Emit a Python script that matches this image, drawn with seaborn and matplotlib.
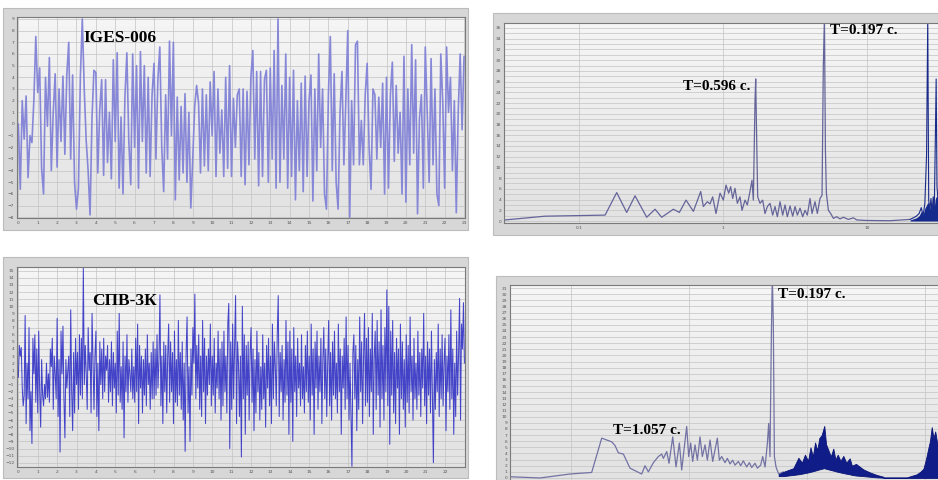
import numpy as np
import pandas as pd
import matplotlib
matplotlib.use("Agg")
import matplotlib.pyplot as plt
from matplotlib.patches import Rectangle
from matplotlib.ticker import FixedLocator, NullLocator, FixedFormatter
import seaborn as sns

# ---------------- data ----------------
# IGES-006 accelerogram, sampled every 0.1 s (t = 0 ... 23 s)
iges_dt = 0.1
iges_values = [
    0.0, -5.6, 2.0, -1.3, 2.4, -4.6, -1.0, -1.6, 2.0, 7.5,
    2.7, 4.8, -3.8, -6.0, 4.0, -0.2, 5.7, -4.0, 1.0, 4.3,
    -3.7, 3.0, -1.5, 4.1, -2.6, 4.2, 7.0, -3.0, 4.2, -5.0,
    -7.3, -5.5, 4.0, 9.0, 3.0, -1.4, -4.0, -7.8, 0.5, 4.6,
    4.4, -4.2, 1.2, 3.8, -4.4, 3.8, -3.3, 1.0, -4.7, 5.5,
    -1.5, 6.1, -5.5, 0.6, -6.0, 2.3, 6.1, -1.5, -5.2, 6.0,
    -2.0, 5.0, -5.5, 6.2, -1.5, 5.0, -4.2, 4.0, -4.5, 2.5,
    5.2, -3.0, 3.8, 6.6, -2.0, -5.8, 2.5, -3.0, 7.1, -1.0,
    7.0, -6.5, 2.3, -4.8, 1.5, -4.2, 2.6, -5.0, 1.0, -7.2,
    -3.0, 1.5, 3.3, 1.8, -4.2, 3.0, -3.6, 2.5, -4.0, 3.6,
    -1.0, 4.5, -4.5, 3.0, -2.5, 1.2, -4.5, 4.0, -3.8, 5.0,
    -4.5, 2.2, -2.0, 2.5, 3.0, -4.5, 3.0, -5.2, 2.8, -3.5,
    4.0, 6.3, -3.0, 4.5, -5.3, 4.5, -4.5, 3.8, 4.6, -5.0,
    4.8, -3.0, 6.3, -5.5, 9.0, -5.0, 3.3, -3.0, 6.0, -5.5,
    4.0, -4.5, 4.6, -6.5, 2.0, -4.0, 3.5, -5.8, 4.1, -4.5,
    2.0, 4.2, -6.6, 3.0, -4.0, 6.0, -2.0, 3.0, -6.0, -7.3,
    2.5, 7.5, -4.0, 4.3, -5.0, -7.3, 1.0, 4.5, -3.5, 2.0,
    8.0, -8.0, 2.0, -3.5, 6.8, 7.1, -3.5, 0.3, -3.5, 2.5,
    5.2, -2.0, -5.6, 3.0, 2.5, -3.0, 2.3, -2.0, 3.5, -6.0,
    4.0, -5.5, 2.5, 5.3, -3.2, 3.3, -2.5, 1.0, -6.0, 5.8,
    -6.7, 3.0, -3.5, 6.8, -2.5, 5.5, -7.7, 0.5, 2.5, -5.5,
    6.6, 1.0, -5.0, 5.6, -3.5, 3.0, -6.0, -7.0, 6.0, 2.0,
    -5.5, 6.6, 1.0, 4.0, -4.0, 2.0, -7.6, 1.0, 6.0, -0.5,
    5.8,
]

# СПВ-3К accelerogram, sampled every 0.05 s (t = 0 ... 23 s)
spv_dt = 0.05
spv_values = [
    0.0, 4.5, 3.0, 4.2, -1.5, -4.0, -2.5, 8.7, -6.5, 2.0, -3.0, 7.0, -7.5, -2.0, -9.3, 5.5, 0.5, 6.0, -3.5, 4.0,
    -5.0, 6.5, -2.0, -7.0, 2.5, -2.5, -4.0, -1.0, -3.0, 2.0, -2.8, 0.5, -3.5, 4.0, 1.5, 5.5, -4.5, 3.0, 0.5, -3.0,
    8.3, -5.5, 2.5, -10.5, 6.5, 0.5, 7.2, -3.0, -8.5, 2.5, -1.5, 1.0, 3.0, -5.5, 9.5, -2.0, -7.5, 3.5, -5.0, 5.5,
    -1.0, 3.5, -4.5, 6.0, -2.5, 5.5, -3.0, 15.6, -1.0, 4.5, 0.5, -4.5, 7.0, 1.0, 3.5, -5.0, 9.0, 2.0, -4.5, 3.0,
    6.5, -5.5, 2.0, -7.5, 5.0, -1.0, 4.0, -3.0, 5.5, -2.0, 3.0, 1.0, 4.5, -3.5, 2.5, -2.0, 5.0, -4.0, 3.5, -1.5,
    2.0, -5.0, 6.5, -2.5, 9.0, -3.5, 1.5, -4.5, 5.0, -8.5, 3.0, -2.0, 6.0, -3.5, 2.5, 0.5, -2.0, 4.0, -3.0, 1.5,
    -3.5, 5.5, -2.0, 7.5, -6.5, 4.5, -1.5, 3.0, -5.0, 2.5, -2.5, 4.0, -4.0, 6.0, -1.0, 2.0, -4.5, 3.5, -3.0, 5.0,
    -3.0, 4.0, -2.5, 6.0, -1.5, 2.5, 11.6, -4.0, 3.0, -6.5, 5.0, -2.0, 4.5, -5.0, 3.0, 7.5, -3.5, 5.0, -2.0, 3.5,
    -6.5, 6.5, -3.5, 2.5, -4.0, 8.0, -2.5, 3.5, -4.5, 5.0, -6.0, 2.0, -10.4, 3.5, 8.5, -5.0, 1.5, -9.0, 4.0, -2.5,
    7.0, 2.0, 11.7, -3.0, 4.5, -1.5, 6.0, -4.5, 3.0, -5.5, 8.0, -2.0, 5.5, -6.5, 3.0, -2.5, 4.0, -1.0, 7.5, -4.0,
    3.0, -2.5, 5.5, -5.0, 2.0, -1.5, 6.5, -3.0, 4.0, -6.0, 5.0, -4.0, 6.5, -2.0, 3.0, -5.0, 7.5, 10.4, -10.0, 5.0,
    -4.5, 7.5, -3.0, 4.0, 11.5, -6.5, 5.0, 2.0, -5.5, 3.0, -11.2, 10.0, -3.0, 6.0, -8.0, 4.5, -2.5, 5.0, -6.0, 3.5,
    7.0, -3.5, 4.0, -7.5, 2.5, -5.0, 6.5, -2.0, 3.5, -6.0, 1.5, -4.5, 6.0, -3.0, 2.0, -7.0, 4.5, -1.5, 5.5, -4.0,
    3.0, -6.5, 7.5, -3.0, 5.0, 1.5, -4.0, 6.0, 11.5, -5.5, 3.5, -2.0, 4.5, -6.0, 2.5, -3.5, 8.0, -2.5, 5.0, -8.0,
    6.5, -3.5, 4.0, -9.0, 7.0, -2.0, 3.0, -5.5, 5.5, -1.5, 2.0, -4.0, 6.0, -3.0, 1.5, -5.0, 4.5, -2.0, 6.5, -3.5,
    3.0, -6.0, 7.5, -2.5, 4.0, -8.0, 5.0, -1.5, 6.5, -4.5, 3.0, -2.0, 5.5, -6.5, 2.5, 7.0, -3.0, 4.0, -5.5, 2.0,
    8.0, -4.0, 3.5, -6.0, 5.0, -2.5, 6.5, -3.0, 2.0, -5.0, 7.5, -2.0, 4.0, -8.0, 3.0, -1.5, 5.5, -4.5, 8.5, -3.0,
    4.5, -6.0, 2.0, -5.0, -12.5, 3.5, 6.0, -3.0, 4.5, -7.5, 2.5, -4.5, 8.5, -2.0, 5.0, -6.5, 3.0, 9.0, -4.0, 5.5,
    -3.5, 7.0, -5.5, 4.0, -2.0, 9.0, -8.0, 3.0, 6.5, -4.5, 8.0, -2.5, 5.0, -7.0, 9.5, -3.0, 4.5, -6.0, 7.0, -2.0,
    12.3, -4.0, 10.0, -9.4, 6.5, -2.5, 8.0, -5.0, 3.5, -6.5, 5.5, -1.5, 4.0, -8.0, 7.5, -3.0, 5.0, -4.5, 2.5, -7.0,
    6.0, -3.5, 4.5, -5.0, 8.5, -2.0, 3.0, -6.0, 5.5, -3.0, 2.0, -4.5, 6.5, -2.5, 3.5, -5.5, 4.0, -1.5, 9.0, -4.0,
    3.0, -6.5, 5.0, -2.5, 4.0, -5.0, 6.5, -3.0, -12.0, 2.5, -4.5, 3.5, -2.0, 7.5, -5.5, 4.0, -3.0, 6.0, -4.0, 2.0,
    5.5, -7.5, 3.0, -2.0, 6.0, -4.5, 9.5, -3.0, 4.0, -8.0, 2.0, -5.5, 6.5, -2.5, 3.5, 11.1, -6.0, 7.5, 4.0, 10.5,
    2.0,
]

# IGES-006 Fourier spectrum (frequency, Hz / amplitude)
iges_freq = [0.0306, 0.0581, 0.1517, 0.1827, 0.2143, 0.2449, 0.2951, 0.3373, 0.3750, 0.4519,
             0.4975, 0.5536, 0.6223, 0.6998, 0.7300, 0.7780, 0.8125, 0.8474, 0.8935, 0.9532,
             1.005, 1.049, 1.095, 1.130, 1.167, 1.211, 1.257, 1.312, 1.355, 1.421,
             1.475, 1.539, 1.589, 1.624, 1.668, 1.686, 1.713, 1.741, 1.807, 1.885,
             1.957, 2.032, 2.120, 2.212, 2.296, 2.384, 2.488, 2.596, 2.695, 2.797,
             2.920, 3.047, 3.162, 3.282, 3.425, 3.574, 3.709, 3.850, 4.018, 4.150,
             4.353, 4.518, 4.715, 4.870, 4.970, 5.060, 5.140, 5.220, 5.390, 5.590,
             5.840, 6.150, 6.490, 6.850, 7.420, 8.030, 8.480, 9.950, 14.45, 19.90]
iges_amp = [0.2, 0.9, 1.1, 5.3, 1.6, 4.7, 0.7, 2.2, 0.7, 2.2,
            1.6, 3.9, 1.8, 5.5, 2.7, 3.6, 3.2, 4.5, 1.4, 5.2,
            3.9, 6.7, 5.2, 6.4, 4.2, 6.1, 3.3, 4.5, 2.0, 3.9,
            3.0, 5.5, 7.6, 3.9, 22.5, 26.5, 15.1, 4.5, 3.3, 3.9,
            1.4, 2.7, 3.3, 1.1, 2.7, 0.8, 3.6, 1.1, 3.0, 0.8,
            2.8, 0.9, 2.7, 1.1, 2.4, 0.8, 2.0, 1.1, 4.2, 1.4,
            3.6, 1.4, 4.2, 4.8, 28.8, 38.0, 13.2, 5.2, 2.0, 1.4,
            0.5, 0.8, 0.4, 0.7, 0.3, 0.6, 0.2, 0.1, 0.06, 0.3]
iges_hf_freq = [19.9, 21.0, 22.0, 23.0, 23.8, 24.5, 25.2, 25.9, 26.4, 26.8, 27.3, 27.8,
                28.3, 28.8, 29.3, 29.8, 30.2, 30.6, 31.1]
iges_hf_amp = [0.3, 0.6, 0.9, 1.4, 2.5, 1.0, 3.2, 12.3, 38.0, 3.9, 2.0, 4.2,
               1.5, 4.5, 2.0, 15.1, 26.5, 6.4, 4.0]
iges_hf_fill = [0.2, 0.4, 0.6, 1.0, 1.8, 1.2, 2.4, 3.0, 3.5, 3.2, 2.2, 3.6,
                2.0, 3.8, 2.6, 4.2, 4.5, 4.8, 4.0]

# СПВ-3К Fourier spectrum (frequency, Hz / amplitude)
spv_freq = [0.0304, 0.0546, 0.0981, 0.1496, 0.1820, 0.2212, 0.2360, 0.2518, 0.2778, 0.3162,
            0.3970, 0.4238, 0.4521, 0.4989, 0.5497, 0.5866, 0.6061, 0.6470, 0.6770, 0.7276,
            0.7760, 0.8279, 0.8668, 0.9131, 0.9555, 0.9935, 1.033, 1.074, 1.124, 1.177,
            1.239, 1.297, 1.367, 1.430, 1.507, 1.587, 1.661, 1.738, 1.807, 1.892,
            2.018, 2.113, 2.225, 2.344, 2.453, 2.618, 2.740, 2.887, 3.080, 3.246,
            3.397, 3.625, 3.795, 4.049, 4.210, 4.408, 4.615, 4.732, 4.855, 4.983,
            5.080, 5.180, 5.290, 5.460, 5.750, 6.300]
spv_amp = [0.2, 0.0, 0.65, 0.9, 6.5, 5.9, 5.3, 4.1, 3.9, 1.6,
           0.65, 2.0, 1.0, 2.5, 3.5, 3.9, 3.2, 4.3, 2.4, 6.7,
           1.8, 5.7, 1.3, 5.1, 8.4, 3.5, 5.7, 2.7, 5.4, 2.9,
           6.7, 3.5, 5.4, 2.9, 6.2, 2.7, 4.6, 6.5, 2.9, 3.5,
           2.5, 3.2, 2.3, 2.9, 2.1, 2.7, 2.0, 2.8, 1.8, 2.5,
           1.7, 2.4, 1.6, 2.1, 3.5, 1.8, 5.7, 8.9, 3.5, 23.0,
           33.0, 25.2, 3.5, 1.8, 0.65, 1.0]
spv_band_freq = [5.75, 6.30, 6.94, 7.66, 8.45, 9.05, 9.60, 10.2, 10.7, 11.2,
                 11.7, 12.2, 12.7, 13.3, 14.0, 14.5, 15.2, 15.9, 16.7, 17.4,
                 18.2, 19.2, 20.3, 21.5, 23.0, 24.0, 26.0, 30.0, 34.2, 38.9, 44.4]
spv_band_hi = [0.6, 1.0, 1.3, 1.6, 3.3, 2.5, 3.8, 2.8, 5.0, 3.5,
               5.8, 4.5, 6.5, 7.0, 8.5, 5.5, 4.5, 3.5, 4.8, 3.0,
               3.8, 2.8, 3.6, 2.5, 3.2, 2.0, 2.3, 1.4, 0.9, 0.5, 0.2]
spv_band_lo = [0.3, 0.3, 0.4, 0.5, 0.6, 0.7, 0.8, 0.9, 1.0, 1.1,
               1.2, 1.3, 1.4, 1.5, 1.6, 1.5, 1.4, 1.3, 1.2, 1.1,
               1.0, 0.9, 0.8, 0.7, 0.6, 0.5, 0.4, 0.3, 0.2, 0.1, 0.05]
spv_hf_freq = [44.4, 70.0, 85.0, 91.0, 96.8, 100.0, 103.0, 107.0, 110.0, 114.0, 118.0, 122.0, 126.0, 129.0]
spv_hf_amp = [0.1, 0.1, 0.6, 1.0, 1.5, 2.5, 3.5, 5.0, 6.0, 8.3, 6.5, 7.6, 6.0, 5.0]

# ---------------- style ----------------
sns.set_theme(style="white")
plt.rcParams["font.family"] = ["DejaVu Sans"]

W, H = 938.0, 480.0
fig = plt.figure(figsize=(9.38, 4.8), dpi=100)
fig.patch.set_facecolor("white")


def fx(x):
    return x / W


def fy(y):
    return 1.0 - y / H


def frame(x0, y0, x1, y1):
    r = Rectangle((fx(x0), fy(y1)), fx(x1) - fx(x0), fy(y0) - fy(y1),
                  transform=fig.transFigure, facecolor="#d7d7d7",
                  edgecolor="#bcbcbc", lw=0.8, zorder=-10)
    fig.add_artist(r)


def make_axes(x0, y0, x1, y1):
    ax = fig.add_axes([fx(x0), fy(y1), fx(x1) - fx(x0), fy(y0) - fy(y1)])
    ax.set_zorder(5)
    ax.set_facecolor("#eeeeee")
    grad = np.linspace(0.96, 0.885, 64).reshape(-1, 1)
    ax.imshow(grad, cmap="gray", vmin=0, vmax=1, extent=(0, 1, 0, 1), aspect="auto",
              transform=ax.transAxes, zorder=-5)
    for s in ax.spines.values():
        s.set_color("#7a7a7a")
        s.set_linewidth(0.8)
    ax.tick_params(axis="both", which="both", length=0, labelsize=3.2,
                   labelcolor="#555555", pad=2)
    return ax


GRID = dict(color="#c3c3c3", lw=0.5)

# frames
frame(3, 8, 468, 230)
frame(493, 13, 938, 235)
frame(3, 257, 468, 478)
frame(496, 276, 938, 480)

# ---- top-left: IGES-006 time history ----
ax1 = make_axes(17, 17, 465, 218)
t1 = np.arange(len(iges_values)) * iges_dt
sns.lineplot(x=t1, y=iges_values, ax=ax1, color="#8787d8", lw=1.2,
             estimator=None, sort=False, legend=False)
ax1.set_xlim(-0.07, 23.05)
ax1.set_ylim(-8.06, 9.17)
ax1.xaxis.set_major_locator(FixedLocator(range(0, 24)))
ax1.yaxis.set_major_locator(FixedLocator(range(-8, 10)))
ax1.grid(True, **GRID)
ax1.set_axisbelow(True)

# ---- bottom-left: СПВ-3К time history ----
ax3 = make_axes(17, 267, 465, 467)
t3 = np.arange(len(spv_values)) * spv_dt
sns.lineplot(x=t3, y=spv_values, ax=ax3, color="#3232c6", lw=0.75, alpha=0.9,
             estimator=None, sort=False, legend=False)
ax3.set_xlim(-0.07, 23.03)
ax3.set_ylim(-12.6, 15.52)
ax3.xaxis.set_major_locator(FixedLocator(range(0, 23)))
ax3.yaxis.set_major_locator(FixedLocator(range(-12, 16)))
ax3.grid(True, **GRID)
ax3.set_axisbelow(True)

# ---- top-right: IGES-006 spectrum ----
ax2 = make_axes(504, 23, 938, 223)
ax2.set_xscale("log")
sns.lineplot(x=iges_freq, y=iges_amp, ax=ax2, color="#64649a", lw=0.9,
             estimator=None, sort=False, legend=False)
ax2.fill_between(iges_hf_freq, 0, iges_hf_fill, color="#142a8c", lw=0, zorder=3)
sns.lineplot(x=iges_hf_freq, y=iges_hf_amp, ax=ax2, color="#1a2a8a", lw=0.8,
             estimator=None, sort=False, legend=False)
ax2.set_xlim(0.03014, 31.1)
ax2.set_ylim(-0.37, 36.93)
ax2.xaxis.set_major_locator(FixedLocator([0.1, 1, 10]))
ax2.xaxis.set_major_formatter(FixedFormatter(["0.1", "1", "10"]))
ax2.xaxis.set_minor_locator(NullLocator())
ax2.yaxis.set_major_locator(FixedLocator(range(0, 37, 2)))
ax2.yaxis.set_minor_locator(FixedLocator(range(1, 37, 2)))
ax2.grid(True, which="both", **GRID)
ax2.set_axisbelow(True)
ax2.spines["right"].set_visible(False)

# ---- bottom-right: СПВ-3К spectrum ----
ax4 = make_axes(510, 285, 938, 480)
ax4.set_xscale("log")
sns.lineplot(x=spv_freq, y=spv_amp, ax=ax4, color="#7272a4", lw=0.9,
             estimator=None, sort=False, legend=False)
ax4.fill_between(spv_band_freq, spv_band_lo, spv_band_hi, color="#101c88", lw=0.6,
                 edgecolor="#0a1478", zorder=3)
ax4.fill_between(spv_hf_freq, 0, spv_hf_amp, color="#101c88", lw=0.6,
                 edgecolor="#0a1478", zorder=3)
ax4.set_xlim(0.0304, 128.8)
ax4.set_ylim(-0.33, 31.49)
ax4.xaxis.set_major_locator(FixedLocator([0.1, 1, 10, 100]))
ax4.xaxis.set_minor_locator(NullLocator())
ax4.yaxis.set_major_locator(FixedLocator(range(0, 32)))
ax4.tick_params(axis="x", labelbottom=False)
ax4.grid(True, which="both", **GRID)
ax4.set_axisbelow(True)
ax4.spines["right"].set_visible(False)
ax4.spines["bottom"].set_visible(False)

# ---- annotations ----
lab = dict(family=["Liberation Serif", "DejaVu Serif"], weight="bold", color="black",
           ha="left", va="center", zorder=20)
fig.text(fx(83), fy(38), "IGES-006", fontsize=12.5, **lab)
fig.text(fx(830), fy(31), "T=0.197 c.", fontsize=11, **lab)
fig.text(fx(683), fy(87), "T=0.596 c.", fontsize=11, **lab)
fig.text(fx(92), fy(301), "СПВ-3К", fontsize=12.5, **lab)
fig.text(fx(778), fy(295), "T=0.197 c.", fontsize=11, **lab)
fig.text(fx(613), fy(431), "T=1.057 c.", fontsize=11, **lab)

fig.savefig("out.png", dpi=100)
